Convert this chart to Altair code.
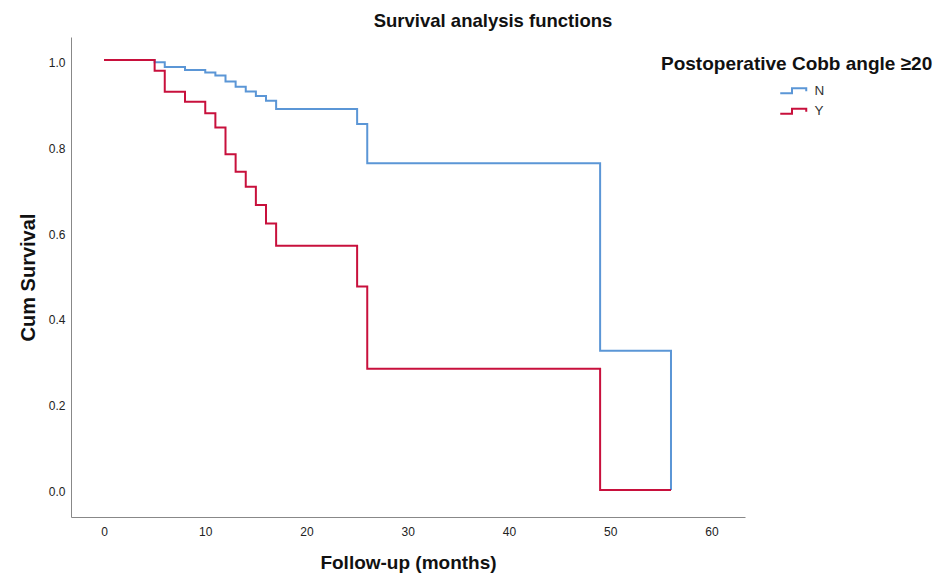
import altair as alt
import pandas as pd

# Kaplan-Meier step data
groups = ["N", "Y"]
times_n = [0, 5, 6, 8, 10, 11, 12, 13, 14, 15, 16, 17, 25, 26, 49, 56]
surv_n = [1.0, 0.995, 0.984, 0.977, 0.971, 0.964, 0.950, 0.938, 0.927, 0.916,
          0.905, 0.886, 0.851, 0.760, 0.324, 0.0]
times_y = [0, 5, 6, 8, 10, 11, 12, 13, 14, 15, 16, 17, 25, 26, 49, 56]
surv_y = [1.0, 0.975, 0.926, 0.903, 0.876, 0.843, 0.781, 0.740, 0.705, 0.663,
          0.620, 0.568, 0.473, 0.282, 0.0, 0.0]
x_ticks = [0, 10, 20, 30, 40, 50, 60]
y_ticks = [0.0, 0.2, 0.4, 0.6, 0.8, 1.0]
colors = ["#5B96D6", "#C8103C"]

df = pd.DataFrame({
    "time": times_n + times_y,
    "surv": surv_n + surv_y,
    "group": ["N"] * len(times_n) + ["Y"] * len(times_y),
})

FONT = "Liberation Sans"
step_symbol = "M-2.7,0.5 H-0.35 V-0.5 H2.5 V0.1"

chart = alt.Chart(df).mark_line(interpolate="step-after", strokeWidth=2).encode(
    x=alt.X("time:Q",
            scale=alt.Scale(domain=[-3.26, 63.31], nice=False, zero=False),
            axis=alt.Axis(values=x_ticks, title="Follow-up (months)", ticks=False, grid=False,
                          labelPadding=9, titleY=51.5, titleBaseline="alphabetic")),
    y=alt.Y("surv:Q",
            scale=alt.Scale(domain=[-0.0628, 1.0535], nice=False, zero=False),
            axis=alt.Axis(values=y_ticks, format=".1f", title="Cum Survival", ticks=False,
                          grid=False, labelPadding=6, labelOffset=2, titlePadding=10,
                          titleFontSize=20)),
    color=alt.Color("group:N",
                    scale=alt.Scale(domain=groups, range=colors),
                    legend=alt.Legend(title="Postoperative Cobb angle \u226520",
                                      orient="none", legendX=590, legendY=18,
                                      symbolType=step_symbol, symbolSize=100,
                                      symbolStrokeWidth=2, symbolOffset=126,
                                      labelOffset=14, rowPadding=5.5, padding=0,
                                      titlePadding=10)),
).properties(
    width=674,
    height=480,
    title=alt.TitleParams("Survival analysis functions", fontSize=18.5, fontWeight="bold",
                          font=FONT, anchor="middle", dx=85, offset=7, color="#111"),
    autosize=alt.AutoSizeParams(type="none"),
    padding={"left": 63, "top": 29, "right": 188, "bottom": 58},
).configure_view(
    stroke="transparent"
).configure_axis(
    labelFont=FONT, titleFont=FONT, labelFontSize=12, labelColor="#222",
    titleFontSize=19, titleFontWeight="bold", titleColor="#111",
    domainColor="#888", domainWidth=1
).configure_legend(
    labelFont=FONT, titleFont=FONT, labelFontSize=13.5, labelColor="#333",
    titleFontSize=19, titleFontWeight="bold", titleColor="#111", titleLimit=400
)

chart.save("out.html", embed_options={"renderer": "svg", "actions": False})
